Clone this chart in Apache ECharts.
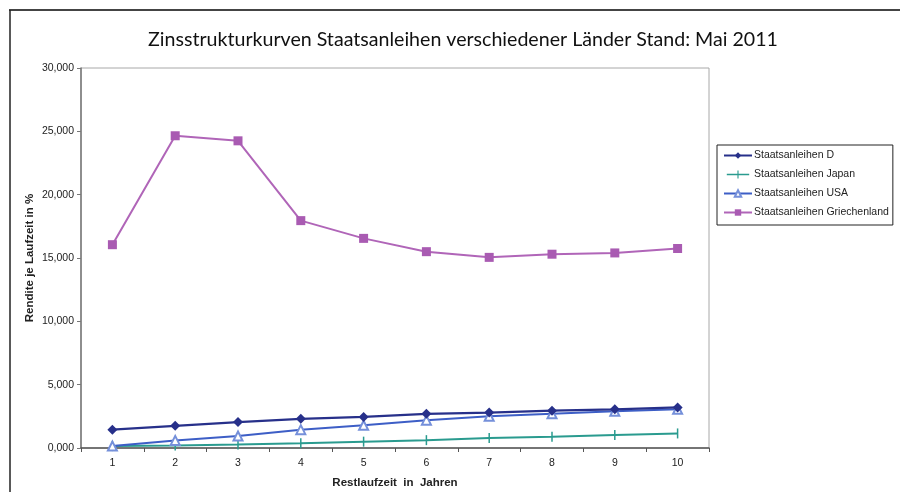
<!DOCTYPE html>
<html>
<head>
<meta charset="utf-8">
<script src="https://cdn.jsdelivr.net/npm/echarts@6/dist/echarts.min.js"></script>
<style>
  html, body { margin: 0; padding: 0; background: #fff; }
  #chart { width: 900px; height: 492px; }
</style>
</head>
<body>
<div id="chart"></div>
<script>
// Restlaufzeit (Jahre)
const years = ['1', '2', '3', '4', '5', '6', '7', '8', '9', '10'];

// Renditen in %
const yieldD = [1.45, 1.75, 2.05, 2.3, 2.45, 2.7, 2.8, 2.95, 3.05, 3.2];
const yieldJapan = [0.15, 0.2, 0.28, 0.38, 0.5, 0.62, 0.78, 0.88, 1.02, 1.15];
const yieldUSA = [0.15, 0.6, 0.95, 1.45, 1.8, 2.2, 2.5, 2.7, 2.9, 3.05];
const yieldGR = [16.05, 24.65, 24.25, 17.95, 16.55, 15.5, 15.05, 15.3, 15.4, 15.75];

const seriesNames = [
  'Staatsanleihen D',
  'Staatsanleihen Japan',
  'Staatsanleihen USA',
  'Staatsanleihen Griechenland'
];

const chart = echarts.init(document.getElementById('chart'), null, { renderer: 'canvas' });

const sans = 'Liberation Sans, Arial, sans-serif';
const axisFont = { fontFamily: sans, fontSize: 10.5, color: '#222' };

// legend icon for the Japan series: line with a vertical tick mark
const tickLineIcon = 'path://M0,4L28,4L28,6L0,6Z M13.3,0L14.7,0L14.7,10L13.3,10Z';

chart.setOption({
  animation: false,
  backgroundColor: '#fff',
  title: {
    text: 'Zinsstrukturkurven Staatsanleihen verschiedener Länder Stand: Mai 2011',
    left: 458,
    textAlign: 'center',
    top: 25,
    textStyle: { fontFamily: 'Lato, sans-serif', fontWeight: 'normal', fontSize: 19.6, color: '#111' }
  },
  graphic: [
    // outer frame (top and left edges)
    { type: 'line', shape: { x1: 9, y1: 10, x2: 900, y2: 10 }, style: { stroke: '#444', lineWidth: 2 } },
    { type: 'line', shape: { x1: 10, y1: 10, x2: 10, y2: 492 }, style: { stroke: '#222', lineWidth: 1.5 } }
  ],
  legend: {
    orient: 'vertical',
    left: 717,
    top: 145,
    padding: [5, 4, 7, 6],
    itemGap: 8,
    itemWidth: 28,
    itemHeight: 8,
    borderColor: '#222',
    borderWidth: 1,
    textStyle: { fontFamily: sans, fontSize: 10.5, color: '#222', padding: [0, 0, 0, -3] },
    data: [
      { name: seriesNames[0] },
      { name: seriesNames[1], icon: tickLineIcon },
      { name: seriesNames[2] },
      { name: seriesNames[3] }
    ]
  },
  grid: {
    left: 81,
    right: 191,
    top: 68,
    bottom: 44,
    outerBoundsMode: 'none',
    containLabel: false,
    show: true,
    borderColor: '#a8a8a8',
    borderWidth: 1
  },
  xAxis: {
    type: 'category',
    data: years,
    boundaryGap: true,
    name: 'Restlaufzeit  in  Jahren',
    nameLocation: 'middle',
    nameGap: 29,
    nameMoveOverlap: false,
    nameTextStyle: { fontFamily: sans, fontSize: 11.5, fontWeight: 'bold', color: '#222' },
    axisLine: { lineStyle: { color: '#555', width: 1.5 } },
    axisTick: { show: true, length: 4, lineStyle: { color: '#555' } },
    axisLabel: Object.assign({ margin: 10 }, axisFont),
    splitLine: { show: false }
  },
  yAxis: {
    type: 'value',
    min: 0,
    max: 30,
    interval: 5,
    name: 'Rendite je Laufzeit in %',
    nameLocation: 'middle',
    nameGap: 45,
    nameMoveOverlap: false,
    nameRotate: 90,
    nameTextStyle: { fontFamily: sans, fontSize: 11.5, fontWeight: 'bold', color: '#222' },
    axisLine: { show: true, lineStyle: { color: '#777', width: 1.5 } },
    axisTick: { show: true, length: 4, lineStyle: { color: '#777' } },
    axisLabel: Object.assign({
      margin: 7,
      formatter: v => v.toFixed(3).replace('.', ',')
    }, axisFont),
    splitLine: { show: false }
  },
  series: [
    {
      name: seriesNames[0],
      type: 'line',
      data: yieldD,
      symbol: 'diamond',
      symbolSize: 10,
      color: '#27308a',
      lineStyle: { width: 2.2, color: '#27308a' },
      itemStyle: { color: '#27308a' },
      z: 4
    },
    {
      name: seriesNames[1],
      type: 'line',
      data: yieldJapan,
      symbol: 'rect',
      symbolSize: [1.5, 10],
      color: '#2a9b8f',
      lineStyle: { width: 2, color: '#2a9b8f' },
      itemStyle: { color: '#2a9b8f' },
      z: 2
    },
    {
      name: seriesNames[2],
      type: 'line',
      data: yieldUSA,
      symbol: 'emptyTriangle',
      symbolSize: 9,
      color: '#3d5ec6',
      lineStyle: { width: 2, color: '#3d5ec6' },
      itemStyle: { color: '#7590da', borderColor: '#7590da', borderWidth: 1.2 },
      z: 3
    },
    {
      name: seriesNames[3],
      type: 'line',
      data: yieldGR,
      symbol: 'rect',
      symbolSize: 9,
      color: '#a95bb2',
      lineStyle: { width: 2, color: '#b065b8' },
      itemStyle: { color: '#a95bb2' },
      z: 3
    }
  ]
});
</script>
</body>
</html>
